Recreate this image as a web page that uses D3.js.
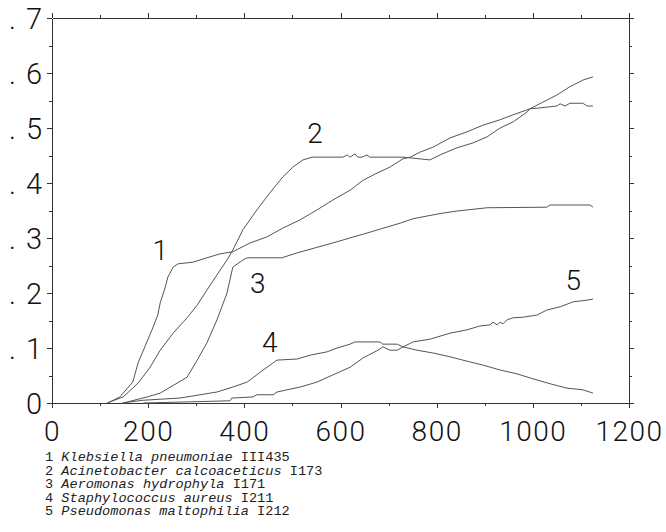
<!DOCTYPE html>
<html>
<head>
<meta charset="utf-8">
<script src="https://cdn.jsdelivr.net/npm/d3@7"></script>
<style>
  body { margin: 0; background: #fff; }
  .tick text { font-family: Roboto, "DejaVu Sans", sans-serif; font-weight: 300; }
</style>
</head>
<body>
<div class="chart"></div>
<script>
// growth curves, x = time, y = absorbance
const kleb = [[116,0],[141,0.011],[168,0.038],[179,0.073],[193,0.102],[208,0.133],[220,0.16],[225,0.182],[235,0.209],[241,0.229],[252,0.247],[262,0.253],[293,0.256],[322,0.264],[349,0.271],[376,0.275],[412,0.291],[447,0.302],[480,0.318],[516,0.333],[551,0.351],[584,0.369],[620,0.387],[647,0.405],[676,0.418],[703,0.429],[730,0.444],[745,0.447],[765,0.456],[792,0.465],[828,0.482],[863,0.493],[896,0.505],[932,0.515],[959,0.524],[988,0.533],[994,0.535],[1009,0.536],[1050,0.54],[1057,0.544],[1067,0.54],[1077,0.545],[1104,0.545],[1113,0.54],[1125,0.54]]
const acin = [[114,0],[148,0.011],[179,0.036],[204,0.065],[225,0.096],[252,0.127],[281,0.155],[302,0.178],[322,0.205],[343,0.233],[364,0.26],[376,0.278],[397,0.315],[426,0.351],[453,0.382],[480,0.411],[501,0.429],[522,0.442],[541,0.447],[605,0.447],[614,0.451],[620,0.447],[630,0.453],[636,0.447],[645,0.447],[655,0.451],[661,0.447],[730,0.447],[786,0.442],[807,0.451],[842,0.464],[876,0.473],[905,0.484],[932,0.5],[959,0.511],[988,0.529],[994,0.535],[1021,0.547],[1050,0.56],[1077,0.575],[1104,0.587],[1125,0.593]]
const aero = [[148,0],[198,0.011],[225,0.018],[260,0.036],[281,0.047],[302,0.078],[322,0.109],[343,0.151],[364,0.2],[376,0.247],[397,0.26],[406,0.264],[478,0.264],[510,0.273],[584,0.291],[655,0.309],[724,0.327],[751,0.335],[780,0.34],[811,0.345],[842,0.349],[905,0.355],[1029,0.356],[1036,0.36],[1119,0.36],[1125,0.356]]
const staph = [[146,0],[189,0.005],[266,0.009],[308,0.015],[343,0.02],[376,0.029],[406,0.038],[433,0.056],[460,0.073],[468,0.078],[510,0.08],[537,0.087],[572,0.093],[593,0.1],[620,0.107],[630,0.111],[682,0.111],[688,0.107],[718,0.107],[730,0.102],[759,0.096],[792,0.091],[828,0.084],[863,0.076],[896,0.069],[932,0.06],[967,0.053],[1000,0.044],[1036,0.035],[1071,0.027],[1104,0.024],[1125,0.018]]
const pseudo = [[190,0],[281,0.002],[370,0.004],[374,0.009],[418,0.011],[426,0.015],[460,0.015],[468,0.02],[489,0.024],[516,0.029],[551,0.038],[584,0.051],[620,0.065],[647,0.082],[678,0.096],[688,0.102],[703,0.096],[718,0.096],[730,0.102],[751,0.111],[786,0.116],[828,0.127],[863,0.133],[890,0.14],[911,0.142],[917,0.147],[926,0.142],[932,0.147],[938,0.144],[946,0.151],[959,0.155],[980,0.156],[1009,0.16],[1029,0.169],[1057,0.175],[1084,0.184],[1113,0.187],[1125,0.189]]

const series = [kleb, acin, aero, staph, pseudo]
const curveIds = ["1", "2", "3", "4", "5"]
const curveLabelAt = [[225,0.278],[547,0.491],[428,0.218],[453,0.111],[1084,0.224]]

const xMajor = [0, 200, 400, 600, 800, 1000, 1200]
const xMinor = [100, 300, 500, 700, 900, 1100]
const yMajor = [0, 0.1, 0.2, 0.3, 0.4, 0.5, 0.6, 0.7]
const yMinor = [0.05, 0.15, 0.25, 0.35, 0.45, 0.55, 0.65]

const legendNames = ["Klebsiella pneumoniae", "Acinetobacter calcoaceticus", "Aeromonas hydrophyla", "Staphylococcus aureus", "Pseudomonas maltophilia"]
const legendStrains = ["III435", "I173", "I171", "I211", "I212"]

var width = 666, height = 532
var plot = {left: 52, right: 629, top: 18, bottom: 403}

const svg = d3.select(".chart").append("svg")
    .attr("width", width)
    .attr("height", height)

const xScale = d3.scaleLinear().domain([0, 1200]).range([plot.left, plot.right])
const yScale = d3.scaleLinear().domain([0, 0.7]).range([plot.bottom, plot.top])

function drawAxis(axis, tx, ty, labels) {
  const g = svg.append("g")
      .attr("transform", `translate(${tx},${ty})`)
      .call(axis)
  g.selectAll("path, line").attr("stroke", "#333").attr("shape-rendering", "crispEdges")
  if (!labels) {
    g.selectAll("text").remove()
    g.select(".domain").remove()
  }
  return g
}

// bottom
const bx = drawAxis(d3.axisBottom(xScale).tickValues(xMajor).tickSize(5).tickSizeOuter(0).tickFormat(d3.format("d")), 0, plot.bottom, true)
bx.selectAll("text")
    .attr("y", 38).attr("dy", null)
    .attr("font-size", 28).attr("fill", "#111")
    .attr("letter-spacing", 1.5)
drawAxis(d3.axisBottom(xScale).tickValues(xMinor).tickSize(3), 0, plot.bottom, false)

// top
const tx = drawAxis(d3.axisTop(xScale).tickValues(xMajor).tickSize(5).tickSizeOuter(0), 0, plot.top, true)
tx.selectAll("text").remove()
drawAxis(d3.axisTop(xScale).tickValues(xMinor).tickSize(3), 0, plot.top, false)

// left
const ly = drawAxis(d3.axisLeft(yScale).tickValues(yMajor).tickSize(5).tickSizeOuter(0), plot.left, 0, true)
ly.selectAll("text")
    .attr("x", -10).attr("dy", "0.36em")
    .attr("font-size", 29).attr("fill", "#111")
    .text(null)
    .each(function(d) {
      const t = d3.select(this)
      if (d === 0) {
        t.append("tspan").text("0")
      } else {
        t.append("tspan").text(".")
        t.append("tspan").attr("dx", 10).text(Math.round(d * 10))
      }
    })
drawAxis(d3.axisLeft(yScale).tickValues(yMinor).tickSize(3), plot.left, 0, false)

// right
const ry = drawAxis(d3.axisRight(yScale).tickValues(yMajor).tickSize(5).tickSizeOuter(0), plot.right, 0, true)
ry.selectAll("text").remove()
drawAxis(d3.axisRight(yScale).tickValues(yMinor).tickSize(3), plot.right, 0, false)

const line = d3.line()
    .x(d => xScale(d[0]))
    .y(d => yScale(d[1]))

svg.selectAll(".curve")
    .data(series)
    .enter().append("path")
    .attr("class", "curve")
    .attr("d", line)
    .attr("fill", "none")
    .attr("stroke", "#555")
    .attr("stroke-width", 1)

svg.selectAll(".clabel")
    .data(curveIds)
    .enter().append("text")
    .attr("class", "clabel")
    .attr("x", (d, i) => xScale(curveLabelAt[i][0]))
    .attr("y", (d, i) => yScale(curveLabelAt[i][1]))
    .attr("dy", "0.36em")
    .attr("text-anchor", "middle")
    .attr("font-family", "Roboto, 'DejaVu Sans', sans-serif")
    .attr("font-weight", 300)
    .attr("font-size", 28)
    .attr("fill", "#111")
    .text(d => d)

const legend = svg.append("g")
    .attr("font-family", "'Liberation Mono', 'DejaVu Sans Mono', monospace")
    .attr("font-size", 13.6)
    .attr("fill", "#222")

legendNames.forEach((name, i) => {
  const t = legend.append("text")
      .attr("x", 45)
      .attr("y", 461 + i * 13.5)
      .attr("xml:space", "preserve")
  t.append("tspan").text(curveIds[i] + " ")
  t.append("tspan").attr("font-style", "italic").text(name)
  t.append("tspan").text(" " + legendStrains[i])
})
</script>
</body>
</html>
